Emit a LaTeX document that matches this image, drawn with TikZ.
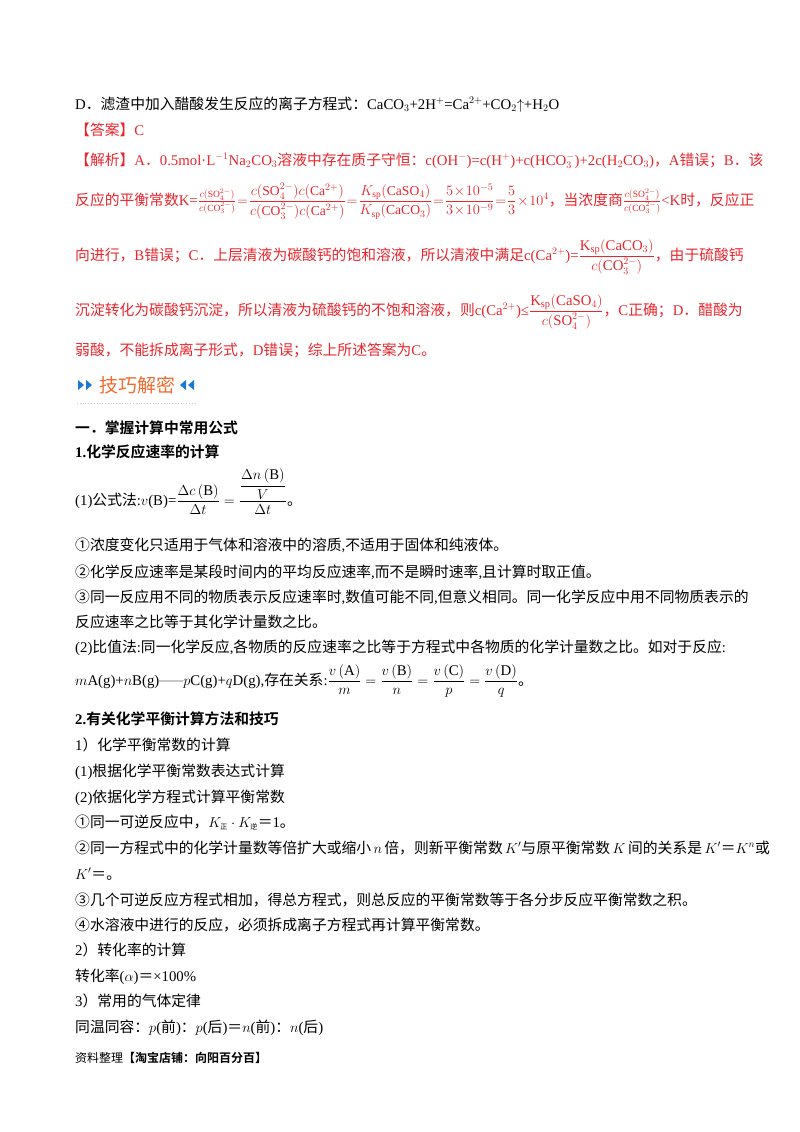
\documentclass[tikz,border=0pt]{standalone}
\usepackage{fontspec}
\usepackage{amsmath}
\setmainfont{Liberation Serif}
\newfontfamily\cjkfont{Noto Sans CJK SC}[BoldFont={* Bold}]
\XeTeXinterchartokenstate=1
\newXeTeXintercharclass\CJKcls
\count255="3000
\loop \XeTeXcharclass\count255=\CJKcls \advance\count255 by 1 \ifnum\count255<"A000 \repeat
\count255="FF00
\loop \XeTeXcharclass\count255=\CJKcls \advance\count255 by 1 \ifnum\count255<"FFF0 \repeat
\count255="2460
\loop \XeTeXcharclass\count255=\CJKcls \advance\count255 by 1 \ifnum\count255<"2474 \repeat
\XeTeXinterchartoks 0 \CJKcls = {\begingroup\cjkfont}
\XeTeXinterchartoks 4095 \CJKcls = {\begingroup\cjkfont}
\XeTeXinterchartoks \CJKcls 0 = {\endgroup}
\XeTeXinterchartoks \CJKcls 4095 = {\endgroup}
\definecolor{ansred}{HTML}{E8262C}
\definecolor{bannerorange}{HTML}{F26A2E}
\definecolor{bannerblue}{HTML}{1E78D2}
\newcommand\fs{\fontsize{14.8}{17}\selectfont}
\newcommand\sm{\fontsize{13.6}{15}\selectfont\thickmuskip=1mu\medmuskip=1mu}
\newcommand\cn[1]{\mathrm{#1}}
\begin{document}
\begin{tikzpicture}[x=1pt,y=-1pt,
  txt/.style={anchor=base west,inner sep=0pt,font=\fs},
  red/.style={txt,text=ansred}]
\useasboundingbox (0,0) rectangle (800,1132);
\node[txt] (d) at (75,109) {D．滤渣中加入醋酸发生反应的离子方程式：CaCO$_3$+2H$^+$=Ca$^{2+}$+CO$_2$$\uparrow$+H$_2$O};
\node[red] (ans) at (75,135) {【答案】C};
\node[red] (j1) at (75,165) {【解析】A．0.5mol·L$^{-1}$Na$_2$CO$_3$溶液中存在质子守恒：c(OH$^-$)=c(H$^+$)+c(HCO$_3^-$)+2c(H$_2$CO$_3$)，A错误；B．该};
\node[red] (j2) at (75,205) {反应的平衡常数K=\mbox{\sm$\tfrac{c(\cn{SO}_4^{2-})}{c(\cn{CO}_3^{2-})}=\dfrac{c(\cn{SO}_4^{2-})c(\cn{Ca}^{2+})}{c(\cn{CO}_3^{2-})c(\cn{Ca}^{2+})}=\dfrac{K_{\cn{sp}}(\cn{CaSO}_4)}{K_{\cn{sp}}(\cn{CaCO}_3)}=\dfrac{5\times10^{-5}}{3\times10^{-9}}=\dfrac{5}{3}\times10^{4}$}，当浓度商\mbox{\sm$\tfrac{c(\cn{SO}_4^{2-})}{c(\cn{CO}_3^{2-})}$}<K时，反应正};
\node[red] (j3) at (75,260) {向进行，B错误；C．上层清液为碳酸钙的饱和溶液，所以清液中满足c(Ca$^{2+}$)=$\dfrac{\cn{K}_{\cn{sp}}(\cn{CaCO}_3)}{c(\cn{CO}_3^{2-})}$，由于硫酸钙};
\node[red] (j4) at (75,315) {沉淀转化为碳酸钙沉淀，所以清液为硫酸钙的不饱和溶液，则c(Ca$^{2+}$)≤$\dfrac{\cn{K}_{\cn{sp}}(\cn{CaSO}_4)}{c(\cn{SO}_4^{2-})}$，C正确；D．醋酸为};
\node[red] (j5) at (75,355) {弱酸，不能拆成离子形式，D错误；综上所述答案为C。};
% banner
\fill[bannerblue] (78,380) -- (84,385) -- (78,390) -- cycle;
\fill[bannerblue] (86,380) -- (92,385) -- (86,390) -- cycle;
\node[anchor=base west,inner sep=0pt,font=\fontsize{19}{22}\selectfont,text=bannerorange] (ban) at (99,392) {技巧解密};
\fill[bannerblue] (186,380) -- (180,385) -- (186,390) -- cycle;
\fill[bannerblue] (194,380) -- (188,385) -- (194,390) -- cycle;
\draw[gray!40,dotted,line width=0.8pt] (77,403) -- (196,403);
\node[txt,font=\fs\bfseries] (h1) at (75,433) {一．掌握计算中常用公式};
\node[txt,font=\fs\bfseries] (h2) at (75,457) {1.化学反应速率的计算};
\node[txt] (f1) at (75,505) {(1)公式法:$v$(B)=$\dfrac{\Delta c\,(\cn{B})}{\Delta t}=\dfrac{\dfrac{\Delta n\,(\cn{B})}{V}}{\Delta t}$。};
\node[txt] (p1) at (75,550) {①浓度变化只适用于气体和溶液中的溶质,不适用于固体和纯液体。};
\node[txt] (p2) at (75,577) {②化学反应速率是某段时间内的平均反应速率,而不是瞬时速率,且计算时取正值。};
\node[txt] (p3) at (75,602) {③同一反应用不同的物质表示反应速率时,数值可能不同,但意义相同。同一化学反应中用不同物质表示的};
\node[txt] (p4) at (75,627) {反应速率之比等于其化学计量数之比。};
\node[txt] (p5) at (75,652) {(2)比值法:同一化学反应,各物质的反应速率之比等于方程式中各物质的化学计量数之比。如对于反应:};
\node[txt] (p6) at (75,685) {$m$A(g)+$n$B(g)\textcolor{gray!45}{\rule[3pt]{24pt}{1.6pt}}$p$C(g)+$q$D(g),存在关系:$\dfrac{v\,(\cn{A})}{m}=\dfrac{v\,(\cn{B})}{n}=\dfrac{v\,(\cn{C})}{p}=\dfrac{v\,(\cn{D})}{q}$。};
\node[txt,font=\fs\bfseries] (h3) at (75,724) {2.有关化学平衡计算方法和技巧};
\node[txt] (q1) at (75,750) {1）化学平衡常数的计算};
\node[txt] (q2) at (75,776) {(1)根据化学平衡常数表达式计算};
\node[txt] (q3) at (75,802) {(2)依据化学方程式计算平衡常数};
\node[txt] (q4) at (75,827) {①同一可逆反应中，$K_{\mbox{\fontsize{7}{8}\selectfont 正}}\cdot K_{\mbox{\fontsize{7}{8}\selectfont 逆}}$＝1。};
\node[txt] (q5) at (75,853) {②同一方程式中的化学计量数等倍扩大或缩小$\,n\,$倍，则新平衡常数$\,K'$与原平衡常数$\,K\,$间的关系是$\,K'$＝$K^n$或};
\node[txt] (q6) at (75,879) {$K'$＝。};
\node[txt] (q7) at (75,905) {③几个可逆反应方程式相加，得总方程式，则总反应的平衡常数等于各分步反应平衡常数之积。};
\node[txt] (q8) at (75,930) {④水溶液中进行的反应，必须拆成离子方程式再计算平衡常数。};
\node[txt] (q9) at (75,955) {2）转化率的计算};
\node[txt] (q10) at (75,981) {转化率($\alpha$)＝×100\%};
\node[txt] (q11) at (75,1006) {3）常用的气体定律};
\node[txt] (q12) at (75,1032) {同温同容：$p$(前)：$p$(后)＝$n$(前)：$n$(后)};
\node[anchor=base west,inner sep=0pt,font=\fontsize{12}{14}\selectfont] (foot) at (75,1062) {资料整理\textbf{【淘宝店铺：向阳百分百】}};
\end{tikzpicture}
\end{document}
